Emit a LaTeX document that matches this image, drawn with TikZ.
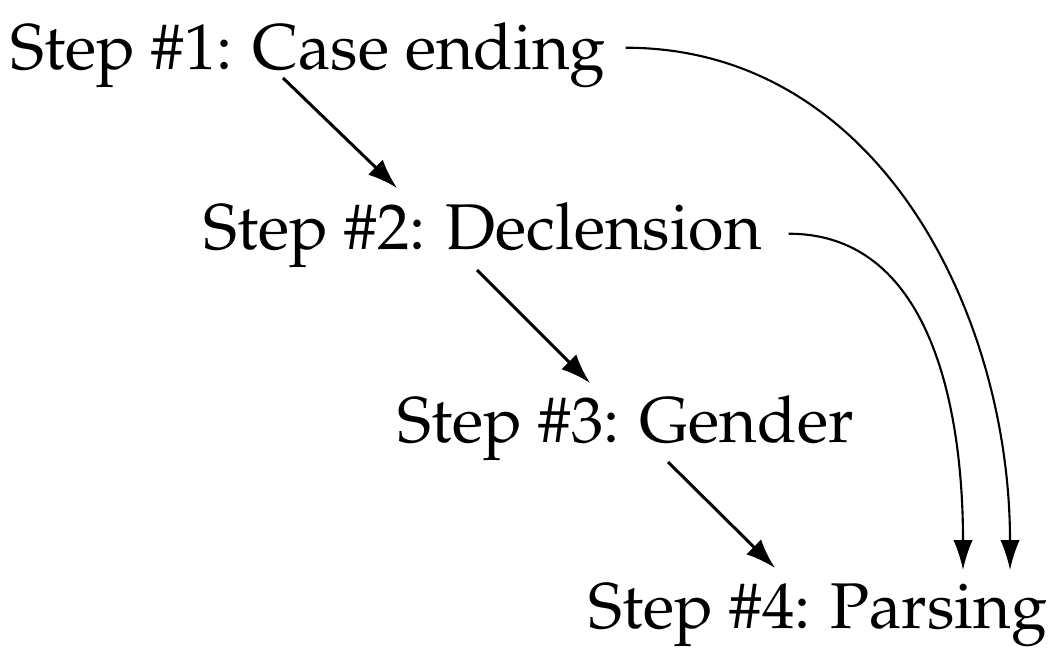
\documentclass[tikz,border=0pt]{standalone}
\usepackage[T1]{fontenc}
\usepackage{mathpazo}
\usepackage{tikz}
\usetikzlibrary{calc,arrows.meta}
\tikzset{
  stepnode/.style={anchor=base west, inner sep=0pt, font=\fontsize{18.4}{22}\selectfont},
  arr/.style={-{Latex[length=8.5pt,width=6pt]}, line width=0.85pt, draw=black},
  skip/.style={-{Latex[length=8.5pt,width=5.5pt]}, line width=0.6pt, draw=black}
}

\begin{document}
\begin{tikzpicture}[x=0.1mm, y=-0.1mm]
  \useasboundingbox (0,0) rectangle (1048,650);

  \node[stepnode] (s1) at (10,70) {Step \#1: Case ending};
  \node[stepnode] (s2) at (203,250) {Step \#2: Declension};
  \node[stepnode] (s3) at (397,443) {Step \#3: Gender};
  \node[stepnode] (s4) at (588,628) {Step \#4: Parsing};

  % chain of steps
  \draw[arr] ([shift={(273,8)}]s1.base west) -- ([shift={(194,-62)}]s2.base west);
  \draw[arr] ([shift={(274,20)}]s2.base west) -- ([shift={(193,-60)}]s3.base west);
  \draw[arr] ([shift={(271,19)}]s3.base west) -- ([shift={(187,-60)}]s4.base west);

  % shortcuts to parsing
  \draw[skip] ([shift={(19,-8)}]s1.east) to[out=0, in=90] ([shift={(422,-58)}]s4.base west);
  \draw[skip] ([shift={(26,-2)}]s2.east) to[out=0, in=90] ([shift={(375,-58)}]s4.base west);
\end{tikzpicture}
\end{document}
